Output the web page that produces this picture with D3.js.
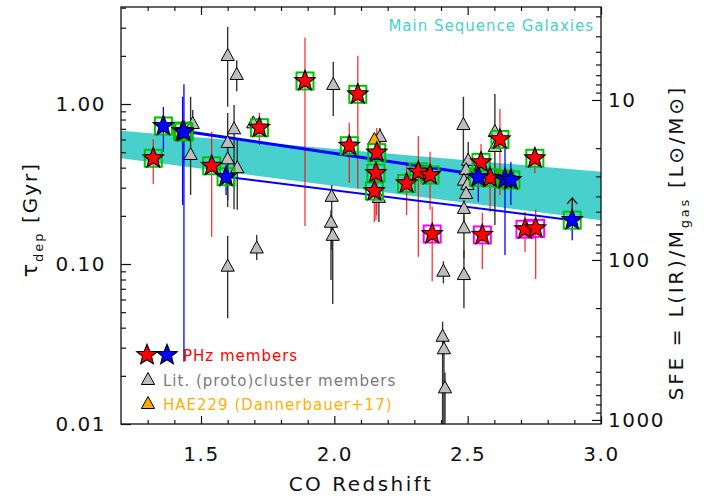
<!DOCTYPE html>
<html><head><meta charset="utf-8">
<script src="https://cdn.jsdelivr.net/npm/d3@7"></script>
<style>body{margin:0;background:#fff} svg{display:block} text{font-family:"DejaVu Sans",sans-serif}</style>
</head><body><svg id="c" width="710" height="497"></svg>
<script>
// ---------------- data ----------------
const zRange = [1.2, 3.0];
const tauRange = [0.01, 4.04];
const sfeConv = 10.6;               // SFE = sfeConv / tau
const xMajor = [1.5, 2.0, 2.5, 3.0];
const xMajorLabels = ["1.5", "2.0", "2.5", "3.0"];
const yMajor = [0.01, 0.1, 1];
const yMajorLabels = ["0.01", "0.10", "1.00"];
const sfeMajor = [10, 100, 1000];
const sfeMajorLabels = ["10", "100", "1000"];

// Main-sequence band (edges)
const bandZ = [1.2, 3.0];
const bandHi = [0.681, 0.377];
const bandLo = [0.458, 0.188];

// blue connecting lines
const lineUpZ = [1.431, 2.65];
const lineUpTau = [0.678, 0.34];
const lineLoZ = [1.594, 2.892];
const lineLoTau = [0.351, 0.188];

// PHz red members: z, tau, err lo, err hi, box colour
const redZ   = [1.321, 1.540, 1.719, 1.890, 2.088, 2.056, 2.159, 2.156, 2.150, 2.271, 2.315, 2.359, 2.367, 2.621, 2.550, 2.584, 2.752, 2.555, 2.715, 2.755];
const redTau = [0.458, 0.411, 0.711, 1.393, 1.150, 0.549, 0.497, 0.370, 0.286, 0.319, 0.377, 0.360, 0.154, 0.601, 0.432, 0.346, 0.458, 0.152, 0.165, 0.167];
const redLo  = [0.316, 0.148, 0.554, 0.173, 0.297, 0.322, 0.202, 0.188, 0.183, 0.202, 0.111, 0.218, 0.078, 0.270, 0.312, 0.212, 0.369, 0.093, 0.119, 0.0806];
const redHi  = [0.602, 0.671, 0.882, 2.60, 2.00, 0.764, 0.708, 0.516, 0.416, 0.436, 0.631, 0.503, 0.228, 0.931, 0.562, 0.447, 0.541, 0.209, 0.212, 0.218];
const redBox = ["g","g","g","g","g","g","g","g","g","g","g","g","m","g","g","g","g","m","m","m"];

// PHz blue members
const blueZ   = [1.359, 1.431, 1.436, 1.594, 2.540, 2.640, 2.662, 2.892];
const blueTau = [0.729, 0.678, 0.668, 0.351, 0.348, 0.340, 0.335, 0.188];
const blueLo  = [0.503, 0.234, 0.0245, 0.270, 0.245, 0.114, 0.234, 0.141];
const blueHi  = [0.958, 1.11, 1.33, 0.410, 0.410, 0.539, 0.434, 0.188];
const blueLimit = [false, false, false, false, false, false, false, true];
const blueLimitTo = 0.259;

// Literature (proto)cluster members
const litZ   = [1.600, 1.634, 1.624, 1.469, 1.461, 1.600, 1.600, 1.636, 1.696, 1.709, 1.600, 1.996, 1.990, 1.9875, 1.994, 2.171, 2.167, 2.409, 2.406, 2.411, 2.415, 2.484, 2.502, 2.494, 2.486, 2.499, 2.494, 2.486, 2.486, 2.486, 2.602, 2.602];
const litTau = [1.995, 1.518, 0.695, 0.750, 0.480, 0.571, 0.451, 0.397, 0.757, 0.125, 0.0962, 1.315, 0.263, 0.181, 0.150, 0.622, 0.259, 0.0895, 0.0351, 0.0293, 0.0167, 0.739, 0.442, 0.387, 0.332, 0.312, 0.274, 0.221, 0.167, 0.0853, 0.668, 0.539];
const litLo  = [0.962, 1.20, 0.220, 0.596, 0.270, 0.227, 0.251, 0.218, null, 0.106, 0.0458, 0.841, 0.122, 0.0794, 0.0562, 0.516, 0.183, 0.0757, 0.01, 0.01, 0.01, 0.312, 0.335, null, null, null, null, 0.180, 0.109, 0.0529, 0.175, null];
const litHi  = [3.04, 1.88, 0.986, 0.917, 1.11, 0.879, 0.555, 0.596, null, 0.152, 0.150, 1.84, 0.312, 0.217, 0.178, 0.708, 0.290, 0.104, 0.0436, 0.0363, 0.021, 1.11, 0.579, null, null, null, null, 0.250, 0.202, 0.122, 1.155, null];

// HAE229 (Dannerbauer+17)
const haeZ = [2.150];
const haeTau = [0.596];

const legendLabels = ["PHz members", "Lit. (proto)cluster members", "HAE229 (Dannerbauer+17)"];

// ---------------- drawing ----------------
const svg = d3.select("#c");
const M = {l:121, r:601, t:7, b:424};
const x = d3.scaleLinear().domain(zRange).range([M.l, M.r]);
const y = d3.scaleLog().domain(tauRange).range([M.b, M.t]);
const ys = d3.scaleLog().domain([sfeConv/tauRange[0], sfeConv/tauRange[1]]).range([M.b, M.t]);

const C = {red:"#ff0000", blue:"#0000ff", gray:"#bdbdbd", teal:"#48d1cc", green:"#00c400", mag:"#ff00ff", orange:"#ffaa00"};

svg.append("defs").append("clipPath").attr("id","clip")
  .append("rect").attr("x",M.l).attr("y",M.t).attr("width",M.r-M.l).attr("height",M.b-M.t);
const g = svg.append("g").attr("clip-path","url(#clip)");

// band
const band = bandZ.map((z,i)=>({z, lo:bandLo[i], hi:bandHi[i]}));
g.append("path").datum(band)
  .attr("d", d3.area().x(d=>x(d.z)).y0(d=>y(d.lo)).y1(d=>y(d.hi)))
  .attr("fill", C.teal);

// literature error bars
litZ.forEach((z,i)=>{
  if (litLo[i]==null) return;
  g.append("line").attr("x1",x(z)).attr("x2",x(z)).attr("y1",y(litLo[i])).attr("y2",y(litHi[i]))
   .attr("stroke","#333").attr("stroke-width",1.4);
});
// PHz error bars
redZ.forEach((z,i)=>{
  g.append("line").attr("x1",x(z)).attr("x2",x(z)).attr("y1",y(redLo[i])).attr("y2",y(redHi[i]))
   .attr("stroke",C.red).attr("stroke-width",1.3).attr("stroke-opacity",0.8);
});
blueZ.forEach((z,i)=>{
  g.append("line").attr("x1",x(z)).attr("x2",x(z)).attr("y1",y(blueLo[i])).attr("y2",y(blueHi[i]))
   .attr("stroke",C.blue).attr("stroke-width",1.3);
});

// blue lines
const ln = d3.line().x(d=>x(d[0])).y(d=>y(d[1]));
g.append("path").attr("d", ln(lineUpZ.map((z,i)=>[z,lineUpTau[i]]))).attr("stroke",C.blue).attr("stroke-width",3).attr("fill","none");
g.append("path").attr("d", ln(lineLoZ.map((z,i)=>[z,lineLoTau[i]]))).attr("stroke",C.blue).attr("stroke-width",2).attr("fill","none");

// symbols
function starPath(R, r){
  const p=[];
  for(let i=0;i<10;i++){ const a=-Math.PI/2+i*Math.PI/5, rad=i%2?r:R; p.push([ (rad*Math.cos(a)).toFixed(2), (rad*Math.sin(a)).toFixed(2)]); }
  return "M"+p.map(q=>q.join(",")).join("L")+"Z";
}
const STAR = starPath(10.8, 4.7);
const TRI = "M0,-7.5L6.6,4.5L-6.6,4.5Z";

function tri(sel, px, py, fill){
  sel.append("path").attr("d",TRI).attr("transform",`translate(${px},${py})`)
    .attr("fill",fill).attr("stroke","#000").attr("stroke-width",1);
}
function star(sel, px, py, fill){
  sel.append("path").attr("d",STAR).attr("transform",`translate(${px},${py})`)
    .attr("fill",fill).attr("stroke","#000").attr("stroke-width",1.1).attr("stroke-linejoin","miter");
}
function box(sel, px, py, col){
  sel.append("rect").attr("x",px-8.5).attr("y",py-8.5).attr("width",17).attr("height",17)
    .attr("fill","none").attr("stroke",col).attr("stroke-width",2);
}

litZ.forEach((z,i)=> tri(g, x(z), y(litTau[i]), C.gray));
haeZ.forEach((z,i)=> tri(g, x(z), y(haeTau[i]), C.orange));

// limit arrow
blueZ.forEach((z,i)=>{
  if(!blueLimit[i]) return;
  const px=x(z), py0=y(blueTau[i]), py1=y(blueLimitTo);
  g.append("line").attr("x1",px).attr("x2",px).attr("y1",py0).attr("y2",py1).attr("stroke","#000").attr("stroke-width",1.2);
  g.append("path").attr("d",`M${px-5},${py1+6}L${px},${py1}L${px+5},${py1+6}`).attr("fill","none").attr("stroke","#000").attr("stroke-width",1.2);
});

redZ.forEach((z,i)=> box(g, x(z), y(redTau[i]), redBox[i]==="m"?C.mag:C.green));
blueZ.forEach((z,i)=> box(g, x(z), y(blueTau[i]), C.green));
redZ.forEach((z,i)=> star(g, x(z), y(redTau[i]), C.red));
blueZ.forEach((z,i)=> star(g, x(z), y(blueTau[i]), C.blue));

// ---------------- axes ----------------
const xMinor = d3.range(13,30).map(v=>v/10).filter(v=>!xMajor.some(m=>Math.abs(m-v)<1e-6));
const yMinor = [];
[0.01,0.1,1].forEach(d=>{ for(let k=2;k<=9;k++){ const v=k*d; if(v<tauRange[1]) yMinor.push(v);} });
const sMinor = [];
[1,10,100].forEach(d=>{ for(let k=2;k<=9;k++){ const v=k*d; if(v>=ys.domain()[1] && v<=ys.domain()[0]) sMinor.push(v);} });

function styleAxis(a){ a.select(".domain").remove(); a.selectAll("line").attr("stroke","#111").attr("stroke-width",1.2);
  a.selectAll("text").attr("font-size",20).attr("fill","#111").attr("letter-spacing","1.5px").style("font-family","DejaVu Sans"); }

styleAxis(svg.append("g").attr("transform",`translate(0,${M.b})`).call(d3.axisBottom(x).tickValues(xMajor).tickFormat((d,i)=>xMajorLabels[i]).tickSize(-8).tickPadding(23)));
styleAxis(svg.append("g").attr("transform",`translate(0,${M.b})`).call(d3.axisBottom(x).tickValues(xMinor).tickFormat("").tickSize(-4)));
styleAxis(svg.append("g").attr("transform",`translate(0,${M.t})`).call(d3.axisTop(x).tickValues(xMajor).tickFormat("").tickSize(-8)));
styleAxis(svg.append("g").attr("transform",`translate(0,${M.t})`).call(d3.axisTop(x).tickValues(xMinor).tickFormat("").tickSize(-4)));
styleAxis(svg.append("g").attr("transform",`translate(${M.l},0)`).call(d3.axisLeft(y).tickValues(yMajor).tickFormat((d,i)=>yMajorLabels[i]).tickSize(-10).tickPadding(15)));
styleAxis(svg.append("g").attr("transform",`translate(${M.l},0)`).call(d3.axisLeft(y).tickValues(yMinor).tickFormat("").tickSize(-5)));
styleAxis(svg.append("g").attr("transform",`translate(${M.r},0)`).call(d3.axisRight(ys).tickValues(sfeMajor).tickFormat((d,i)=>sfeMajorLabels[i]).tickSize(-9).tickPadding(7)));
styleAxis(svg.append("g").attr("transform",`translate(${M.r},0)`).call(d3.axisRight(ys).tickValues(sMinor).tickFormat("").tickSize(-5)));

svg.append("rect").attr("x",M.l).attr("y",M.t).attr("width",M.r-M.l).attr("height",M.b-M.t)
  .attr("fill","none").attr("stroke","#111").attr("stroke-width",1.3);

// titles
svg.append("text").attr("x",(M.l+M.r)/2).attr("y",491).attr("text-anchor","middle")
  .attr("font-size",20).attr("letter-spacing","2.5px").attr("fill","#111").text("CO Redshift");

const lt = svg.append("text").attr("transform",`translate(37,${(M.t+M.b)/2 + 4}) rotate(-90)`).attr("text-anchor","middle")
  .attr("font-size",20).attr("letter-spacing","2px").attr("fill","#111");
lt.append("tspan").attr("font-size",22).text("τ");
lt.append("tspan").attr("font-size",13).attr("dy",6).text("dep");
lt.append("tspan").attr("dy",-6).text(" [Gyr]");

const rt = svg.append("text").attr("transform",`translate(683,${(M.t+M.b)/2+27}) rotate(-90)`).attr("text-anchor","middle")
  .attr("font-size",20).attr("letter-spacing","2.7px").attr("fill","#111");
rt.append("tspan").text("SFE = L(IR)/M");
rt.append("tspan").attr("font-size",13).attr("dy",6).text("gas");
rt.append("tspan").attr("dy",-6).text(" [L⊙/M⊙]");

// main sequence label
svg.append("text").attr("x",594).attr("y",31).attr("text-anchor","end").attr("font-size",15)
  .attr("letter-spacing","1px").attr("fill",C.teal).text("Main Sequence Galaxies");

// legend
const lg = svg.append("g");
star(lg, 147, 355, C.red);
star(lg, 167, 355, C.blue);
lg.append("text").attr("x",183).attr("y",361).attr("font-size",15).attr("letter-spacing","1px").attr("fill",C.red).text(legendLabels[0]);
tri(lg, 148, 380, C.gray);
lg.append("text").attr("x",163).attr("y",386).attr("font-size",15).attr("letter-spacing","1px").attr("fill","#7a7a7a").text(legendLabels[1]);
tri(lg, 148, 404, C.orange);
lg.append("text").attr("x",163).attr("y",410).attr("font-size",15).attr("letter-spacing","1px").attr("fill","#ffb000").text(legendLabels[2]);
</script>
</body></html>
